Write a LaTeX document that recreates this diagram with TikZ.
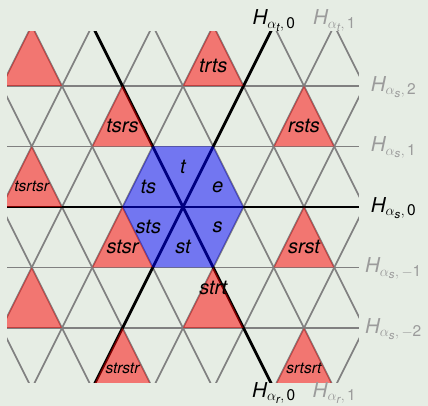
\documentclass[tikz,border=0pt]{standalone}
\usepackage{amsmath}
\usepackage{fontspec}
\setmainfont{TeX Gyre Heros}
\DeclareMathSizes{20.5}{20.5}{15.5}{11.5}
\definecolor{bg}{RGB}{230,237,228}
\definecolor{linegray}{RGB}{128,128,128}
\definecolor{labgray}{RGB}{155,155,155}
\newcommand{\hyp}[2]{$\textit{H}_{\alpha_{\textit{#1}},\,\text{#2}}$}
\begin{document}
\begin{tikzpicture}[x=30.25pt,y=60.5pt,
  grid/.style={linegray,line width=1.6pt},
  wall/.style={black,line width=2.8pt},
  redal/.style={fill=red,fill opacity=0.5},
  blueal/.style={fill=blue,fill opacity=0.5},
  lab/.style={font=\fontsize{20}{24}\selectfont\itshape, inner sep=0pt},
  smalllab/.style={font=\fontsize{15.5}{18}\selectfont\itshape, inner sep=0pt},
  hlab/.style={font=\fontsize{20.5}{24}\selectfont, inner sep=0pt},
]
\fill[bg] (-183pt,-199pt) rectangle (245pt,207pt);
\useasboundingbox (-183pt,-199pt) rectangle (245pt,207pt);
\begin{scope}
  \clip (-5.818,-2.893) rectangle (5.818,2.909);
  \foreach \j in {-3,...,3} \draw[grid] (-7,\j) -- (7,\j);
  \foreach \m in {-6,...,6} {
    \draw[grid] ({2*\m-4},-4) -- ({2*\m+4},4);
    \draw[grid] ({2*\m-4},4) -- ({2*\m+4},-4);
  }
  \draw[wall] (-7,0) -- (7,0);
  \draw[wall] (-4,-4) -- (4,4);
  \draw[wall] (-4,4) -- (4,-4);
  \foreach \k/\j in {1/3,-5/3,-2/2,4/2,-5/1,-2/0,4/0,1/-1,-5/-1,-2/-2,4/-2}
    \fill[redal] (\k,\j) -- ({\k-1},{\j-1}) -- ({\k+1},{\j-1}) -- cycle;
  \fill[blueal] (2,0) -- (1,1) -- (-1,1) -- (-2,0) -- (-1,-1) -- (1,-1) -- cycle;
\end{scope}
% alcove labels
\node[lab] (a-tsrs) at (-2,{4/3}) {tsrs};
\node[lab] (a-trts) at (1,{7/3}) {trts};
\node[lab] (a-rsts) at (4,{4/3}) {rsts};
\node[smalllab] (a-tsrtsr) at (-5,{1/3}) {tsrtsr};
\node[lab] (a-stsr) at (-2,{-2/3}) {stsr};
\node[lab] (a-srst) at (4,{-2/3}) {srst};
\node[lab] (a-strt) at (1,{-4/3}) {strt};
\node[smalllab] (a-strstr) at (-2,{-8/3}) {strstr};
\node[smalllab] (a-srtsrt) at (4,{-8/3}) {srtsrt};
\node[lab] (a-e) at (30:40pt) {e};
\node[lab] (a-t) at (90:40pt) {t};
\node[lab] (a-ts) at (150:40pt) {ts};
\node[lab] (a-sts) at (210:40pt) {sts};
\node[lab] (a-st) at (270:40pt) {st};
\node[lab] (a-s) at (330:40pt) {s};
% hyperplane labels
\node[hlab,labgray] (hs2) at (210.5pt,120pt) {\hyp{s}{2}};
\node[hlab,labgray] (hs1) at (210.5pt,59.5pt) {\hyp{s}{1}};
\node[hlab] (hs0) at (210.5pt,-1pt) {\hyp{s}{0}};
\node[hlab,labgray] (hsm1) at (210.5pt,-61.5pt) {$\textit{H}_{\alpha_{\textit{s}},\,-\text{1}}$};
\node[hlab,labgray] (hsm2) at (210.5pt,-122pt) {$\textit{H}_{\alpha_{\textit{s}},\,-\text{2}}$};
\node[hlab,anchor=base] (ht0) at (91pt,182pt) {\hyp{t}{0}};
\node[hlab,labgray,anchor=base] (ht1) at (151.5pt,182pt) {\hyp{t}{1}};
\node[hlab,anchor=base] (hr0) at (91pt,-190pt) {\hyp{r}{0}};
\node[hlab,labgray,anchor=base] (hr1) at (151.5pt,-190pt) {\hyp{r}{1}};
\end{tikzpicture}
\end{document}
